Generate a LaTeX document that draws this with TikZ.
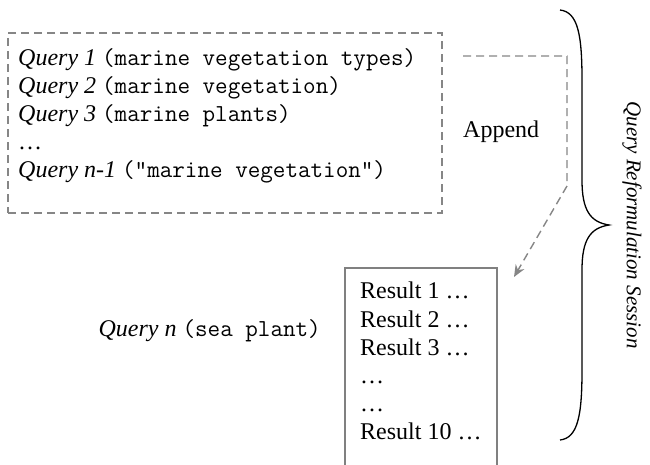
\documentclass[tikz,border=0pt]{standalone}
\usepackage{fontspec}
\setmainfont{Liberation Serif}
\usetikzlibrary{arrows.meta}
\begin{document}
\begin{tikzpicture}[x=1pt,y=-1pt,
  txt/.style={anchor=base west, inner sep=0pt, font=\fontsize{24}{27}\selectfont},
  dashbox/.style={draw=gray!95, line width=1.4pt, dash pattern=on 8pt off 5pt, inner sep=0pt},
  solidbox/.style={draw=gray, line width=1.6pt, inner sep=0pt},
  appendline/.style={draw=gray!95, line width=1.4pt, dash pattern=on 8pt off 5pt, -{Stealth[length=12pt,width=10pt]}},
  bracestyle/.style={line width=1.3pt, black}
]
\newcommand{\qm}[1]{{\ttfamily\fontsize{24.4}{27}\selectfont #1}}
\useasboundingbox (0,0) rectangle (650,464);
% query history box
\node[dashbox, minimum width=434pt, minimum height=180pt] (qbox) at (225,123) {};
\node[txt] (q1) at (18,65) {\textit{Query 1} \qm{(marine vegetation types)}};
\node[txt] (q2) at (18,93) {\textit{Query 2} \qm{(marine vegetation)}};
\node[txt] (q3) at (18,121) {\textit{Query 3} \qm{(marine plants)}};
\node[txt] (q4) at (18,149) {…};
\node[txt] (q5) at (18,177) {\textit{Query n-1} \qm{("marine vegetation")}};
% results box
\node[solidbox, minimum width=152pt, minimum height=220pt] (rbox) at (421,378) {};
\node[txt] (r1) at (360,298) {Result 1 …};
\node[txt] (r2) at (360,327) {Result 2 …};
\node[txt] (r3) at (360,355) {Result 3 …};
\node[txt] (r4) at (360,383) {…};
\node[txt] (r5) at (360,411) {…};
\node[txt] (r6) at (360,439) {Result 10 …};
% current query
\node[txt, anchor=base east] (qn) at (321,336) {\textit{Query n} \qm{(sea plant)}};
% append connector
\coordinate (as) at (463,56);
\coordinate (ac1) at (567,56);
\coordinate (ac2) at (567,186);
\coordinate (ae) at (514,277);
\draw[appendline] (as) -- (ac1) -- (ac2) -- (ae);
\node[txt] (app) at (463,137) {Append};
% brace
\coordinate (bt) at (560,10);
\coordinate (bm) at (609,225);
\coordinate (bb) at (560,440);
\draw[bracestyle] (bt) .. controls (578,12) and (582,35) .. (582,80) -- (582,180)
  .. controls (582,210) and (590,222) .. (bm)
  .. controls (590,228) and (582,240) .. (582,270) -- (582,370)
  .. controls (582,415) and (578,438) .. (bb);
\node[rotate=-90, inner sep=0pt, font=\fontsize{21}{25}\selectfont\itshape] (sess) at (632,225) {Query Reformulation Session};
\end{tikzpicture}
\end{document}
